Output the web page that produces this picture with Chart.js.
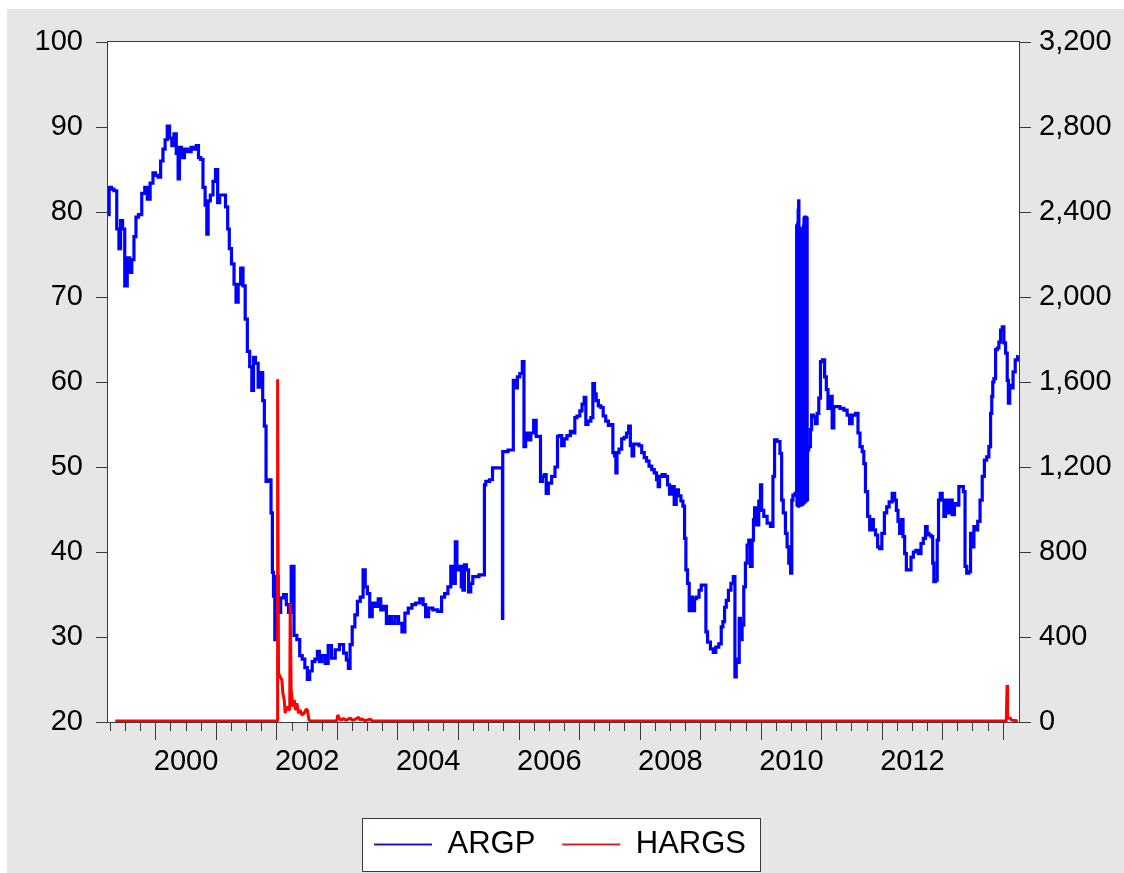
<!DOCTYPE html>
<html>
<head>
<meta charset="utf-8">
<title>ARGP and HARGS</title>
<script src="https://cdn.jsdelivr.net/npm/chart.js@4/dist/chart.umd.min.js"></script>
<style>
  html, body { margin: 0; padding: 0; background: #ffffff; }
  #wrap { position: absolute; left: 7px; top: 9px; width: 1117px; height: 864px; }
  canvas { display: block; }
</style>
</head>
<body>
<div id="wrap"><canvas id="chart" width="1117" height="864"></canvas></div>
<script>
// ARGP series (left axis): observation dates as decimal years and values
const argpDates = [
  1999.212, 1999.245, 1999.289, 1999.327, 1999.382, 1999.398, 1999.438, 1999.464, 1999.509, 1999.547,
  1999.587, 1999.620, 1999.658, 1999.686, 1999.740, 1999.795, 1999.840, 1999.878, 1999.934, 1999.972,
  2000.017, 2000.060, 2000.099, 2000.137, 2000.170, 2000.208, 2000.248, 2000.281, 2000.319, 2000.357,
  2000.380, 2000.402, 2000.446, 2000.501, 2000.555, 2000.612, 2000.650, 2000.688, 2000.721, 2000.760,
  2000.798, 2000.831, 2000.853, 2000.876, 2000.926, 2000.964, 2001.008, 2001.035, 2001.074, 2001.129,
  2001.174, 2001.200, 2001.228, 2001.273, 2001.311, 2001.339, 2001.382, 2001.421, 2001.460, 2001.493,
  2001.531, 2001.570, 2001.603, 2001.625, 2001.669, 2001.712, 2001.752, 2001.779, 2001.807, 2001.835,
  2001.889, 2001.917, 2001.934, 2001.955, 2001.977, 2002.000, 2002.043, 2002.083, 2002.137, 2002.175,
  2002.208, 2002.264, 2002.302, 2002.357, 2002.397, 2002.440, 2002.484, 2002.522, 2002.562, 2002.605,
  2002.650, 2002.688, 2002.716, 2002.770, 2002.826, 2002.869, 2002.936, 2002.992, 2003.074, 2003.129,
  2003.167, 2003.195, 2003.223, 2003.266, 2003.311, 2003.349, 2003.405, 2003.443, 2003.476, 2003.514,
  2003.554, 2003.597, 2003.653, 2003.696, 2003.736, 2003.790, 2003.828, 2003.873, 2003.927, 2003.983,
  2004.038, 2004.093, 2004.137, 2004.203, 2004.258, 2004.324, 2004.397, 2004.435, 2004.479, 2004.534,
  2004.617, 2004.699, 2004.744, 2004.798, 2004.853, 2004.893, 2004.931, 2004.964, 2004.985, 2005.030,
  2005.063, 2005.084, 2005.112, 2005.150, 2005.183, 2005.223, 2005.250, 2005.426, 2005.431, 2005.471,
  2005.554, 2005.570, 2005.724, 2005.729, 2005.734, 2005.901, 2005.911, 2005.955, 2005.993, 2006.033,
  2006.076, 2006.088, 2006.132, 2006.175, 2006.215, 2006.269, 2006.298, 2006.341, 2006.369, 2006.407,
  2006.435, 2006.463, 2006.506, 2006.572, 2006.617, 2006.655, 2006.683, 2006.727, 2006.765, 2006.820,
  2006.876, 2006.914, 2006.931, 2006.985, 2007.025, 2007.058, 2007.096, 2007.112, 2007.167, 2007.207,
  2007.233, 2007.261, 2007.289, 2007.332, 2007.372, 2007.410, 2007.455, 2007.498, 2007.537, 2007.564,
  2007.592, 2007.608, 2007.630, 2007.674, 2007.719, 2007.757, 2007.795, 2007.828, 2007.851, 2007.884,
  2007.906, 2007.960, 2008.005, 2008.050, 2008.088, 2008.126, 2008.170, 2008.215, 2008.253, 2008.291,
  2008.307, 2008.336, 2008.390, 2008.435, 2008.473, 2008.501, 2008.545, 2008.583, 2008.612, 2008.655,
  2008.694, 2008.721, 2008.749, 2008.765, 2008.803, 2008.820, 2008.860, 2008.886, 2008.914, 2008.952,
  2008.997, 2009.025, 2009.079, 2009.096, 2009.134, 2009.190, 2009.228, 2009.273, 2009.327, 2009.355,
  2009.382, 2009.410, 2009.438, 2009.481, 2009.521, 2009.559, 2009.575, 2009.603, 2009.630, 2009.646,
  2009.669, 2009.702, 2009.724, 2009.757, 2009.779, 2009.812, 2009.835, 2009.868, 2009.878, 2009.906,
  2009.944, 2009.977, 2010.000, 2010.017, 2010.071, 2010.126, 2010.182, 2010.208, 2010.236, 2010.291,
  2010.331, 2010.347, 2010.385, 2010.418, 2010.440, 2010.473, 2010.501, 2010.512, 2010.539, 2010.583,
  // mid-2010: day-to-day swings between two levels
  2010.590, 2010.594, 2010.598, 2010.602, 2010.606, 2010.610, 2010.614, 2010.618, 2010.622, 2010.626,
  2010.630, 2010.634, 2010.638, 2010.642, 2010.646, 2010.650, 2010.654, 2010.658, 2010.662, 2010.666,
  2010.670, 2010.674, 2010.678, 2010.682, 2010.686, 2010.690, 2010.694, 2010.698, 2010.702, 2010.706,
  2010.710, 2010.714, 2010.718, 2010.722, 2010.726, 2010.730, 2010.734, 2010.738, 2010.742, 2010.746,
  2010.750, 2010.754, 2010.758, 2010.762,
  2010.770, 2010.803, 2010.826, 2010.843, 2010.881, 2010.914, 2010.936, 2010.969,
  2010.992, 2011.035, 2011.063, 2011.091, 2011.117, 2011.157, 2011.190, 2011.212, 2011.266, 2011.339,
  2011.393, 2011.448, 2011.476, 2011.531, 2011.587, 2011.613, 2011.653, 2011.686, 2011.707, 2011.740,
  2011.779, 2011.807, 2011.835, 2011.873, 2011.906, 2011.944, 2011.972, 2012.017, 2012.055, 2012.093,
  2012.137, 2012.192, 2012.220, 2012.248, 2012.274, 2012.302, 2012.331, 2012.357, 2012.385, 2012.413,
  2012.456, 2012.496, 2012.534, 2012.579, 2012.621, 2012.661, 2012.699, 2012.732, 2012.754, 2012.787,
  2012.826, 2012.843, 2012.864, 2012.898, 2012.919, 2012.942, 2012.975, 2013.008, 2013.030, 2013.063,
  2013.101, 2013.140, 2013.174, 2013.212, 2013.250, 2013.283, 2013.322, 2013.360, 2013.377, 2013.415,
  2013.448, 2013.471, 2013.504, 2013.526, 2013.559, 2013.597, 2013.636, 2013.669, 2013.707, 2013.745,
  2013.779, 2013.802, 2013.818, 2013.835, 2013.856, 2013.890, 2013.911, 2013.944, 2013.967, 2014.000,
  2014.021, 2014.055, 2014.076, 2014.093, 2014.121, 2014.149, 2014.175, 2014.220, 2014.255
];
const argpValues = [
  79.7, 82.9, 82.7, 82.5, 78.0, 75.7, 79.0, 78.0, 71.3, 74.6,
  72.9, 74.4, 77.1, 79.4, 79.7, 82.2, 82.9, 81.5, 83.4, 84.6,
  84.3, 84.1, 86.0, 87.4, 88.5, 90.1, 88.7, 87.8, 89.2, 86.9,
  83.9, 87.6, 86.4, 87.4, 87.1, 87.6, 87.4, 87.8, 86.4, 86.2,
  82.9, 80.8, 77.4, 81.3, 82.0, 83.6, 85.0, 81.1, 82.0, 82.0,
  80.6, 78.0, 75.7, 73.9, 71.5, 69.4, 71.5, 73.4, 71.3, 67.4,
  63.6, 61.8, 59.0, 62.9, 62.2, 59.4, 61.1, 57.8, 54.8, 48.3,
  48.5, 44.6, 37.6, 34.8, 29.7, 37.1, 32.9, 34.6, 35.0, 33.8,
  32.9, 38.3, 30.2, 29.7, 27.8, 27.4, 26.4, 25.0, 26.0, 27.1,
  27.4, 28.3, 27.1, 27.8, 26.9, 29.0, 27.5, 28.5, 29.1, 28.1,
  27.3, 26.3, 29.1, 31.2, 32.6, 34.2, 34.7, 37.9, 35.9, 35.1,
  32.4, 34.0, 33.6, 34.5, 33.2, 33.6, 31.6, 32.4, 31.6, 32.4,
  31.6, 30.6, 32.8, 33.4, 33.8, 34.0, 34.5, 33.8, 32.4, 33.4,
  33.2, 33.0, 34.7, 35.1, 35.9, 38.3, 36.3, 41.2, 37.9, 38.3,
  35.9, 35.5, 38.5, 37.9, 35.3, 36.3, 37.1, 37.3, 47.9, 48.3,
  48.5, 49.9, 49.9, 32.2, 51.8, 52.0, 60.2, 59.3, 60.6, 61.0,
  62.4, 52.4, 54.0, 53.2, 54.0, 55.5, 53.6, 53.6, 48.3, 48.9,
  49.1, 46.9, 48.1, 48.9, 50.0, 53.6, 53.7, 52.5, 53.3, 53.7,
  54.2, 54.0, 55.8, 56.0, 56.6, 57.4, 58.2, 55.0, 55.4, 55.8,
  59.8, 58.6, 57.8, 57.2, 57.0, 56.0, 55.4, 54.9, 55.0, 51.7,
  51.3, 49.3, 51.7, 52.1, 53.3, 53.5, 54.0, 54.8, 52.5, 51.3,
  52.7, 52.7, 52.5, 51.7, 51.1, 50.7, 50.1, 49.7, 49.3, 48.5,
  47.7, 48.9, 49.1, 48.9, 47.9, 46.8, 47.7, 45.6, 47.3, 46.6,
  46.0, 45.4, 41.6, 37.9, 36.3, 33.1, 34.7, 33.1, 34.5, 34.7,
  35.5, 36.1, 36.1, 30.6, 29.4, 28.6, 28.2, 28.8, 29.2, 31.2,
  31.8, 33.5, 34.3, 35.5, 36.3, 37.1, 25.3, 27.4, 27.0, 32.2,
  29.7, 31.4, 35.9, 38.7, 40.8, 41.4, 38.3, 41.4, 43.8, 45.2,
  43.2, 46.0, 47.9, 44.9, 44.2, 43.4, 43.0, 48.9, 53.2, 53.0,
  51.6, 46.1, 44.6, 42.2, 40.6, 38.7, 37.5, 46.1, 46.7, 46.9,
  78.3, 45.6, 78.4, 45.5, 78.6, 45.5, 80.2, 45.4, 81.3, 45.5,
  78.1, 45.5, 78.0, 45.6, 77.9, 45.6, 77.9, 45.5, 77.8, 45.6,
  77.8, 45.7, 77.9, 45.6, 78.0, 45.7, 78.1, 45.8, 78.3, 45.8,
  79.2, 45.9, 79.3, 45.9, 79.4, 46.0, 79.4, 46.0, 79.3, 46.1,
  79.3, 46.1, 79.2, 46.2,
  52.0, 52.4, 54.4, 56.1, 55.9, 55.1, 56.3, 58.1,
  62.4, 62.6, 60.6, 59.1, 56.9, 58.3, 54.6, 57.1, 57.1, 56.9,
  56.7, 56.1, 55.1, 56.1, 56.3, 54.0, 52.4, 51.8, 50.4, 47.1,
  44.2, 42.6, 43.8, 42.6, 42.0, 40.6, 40.4, 42.2, 44.6, 45.3,
  45.9, 46.9, 46.1, 44.9, 43.6, 42.2, 43.8, 41.8, 39.8, 37.9,
  37.9, 39.4, 40.0, 40.2, 39.8, 41.0, 41.6, 43.0, 42.2, 42.0,
  41.8, 38.7, 36.5, 36.7, 41.4, 46.1, 46.9, 46.1, 44.2, 46.1,
  44.6, 46.1, 44.4, 45.7, 45.5, 47.7, 47.7, 47.1, 38.3, 37.5,
  37.7, 42.2, 40.6, 43.0, 42.6, 43.6, 46.1, 48.9, 50.8, 51.2,
  52.4, 56.3, 58.3, 60.0, 60.4, 63.8, 64.0, 64.7, 66.1, 66.5,
  64.6, 63.4, 60.2, 57.5, 59.6, 59.3, 61.2, 62.6, 63.0
];

// HARGS series (right axis)
const hargsDates = [
  1999.330, 2002.005, 2002.012, 2002.027, 2002.055, 2002.083, 2002.099, 2002.121, 2002.137, 2002.165,
  2002.192, 2002.212, 2002.220, 2002.236, 2002.264, 2002.286, 2002.307, 2002.331, 2002.357, 2002.385,
  2002.413, 2002.451, 2002.484, 2002.506, 2002.529, 2002.560, 2002.990, 2003.005, 2003.030, 2003.060,
  2003.101, 2003.140, 2003.212, 2003.250, 2003.311, 2003.349, 2003.380, 2003.405, 2003.450, 2003.542,
  2003.580, 2014.050, 2014.063, 2014.072, 2014.090, 2014.110, 2014.130, 2014.160, 2014.240
];
const hargsValues = [
  5, 5, 1613, 229, 213, 198, 135, 104, 42, 72,
  56, 60, 559, 151, 72, 104, 56, 88, 41, 56,
  33, 41, 60, 56, 10, 5, 5, 33, 18, 8,
  17, 8, 18, 8, 15, 22, 8, 15, 6, 13,
  5, 5, 174, 25, 15, 22, 10, 8, 5
];

const seriesNames = ['ARGP', 'HARGS'];
const lineColors = ['#0000ff', '#ff0000'];
const legendColors = ['#1c1ca6', '#c62828'];
const yearLabels = ['2000', '2002', '2004', '2006', '2008', '2010', '2012'];
const leftTicks = [20, 30, 40, 50, 60, 70, 80, 90, 100];
const rightTicks = [0, 400, 800, 1200, 1600, 2000, 2400, 2800, 3200];

const X_MIN = 1999.21, X_MAX = 2014.26;
const FONT = "'Liberation Sans', Arial, Helvetica, sans-serif";

// quarterly tick positions; labels sit mid-year (Q3 start)
const quarterTicks = [];
for (let y = 1999; y <= 2014; y++) {
  for (let q = 0; q < 4; q++) {
    const v = y + q / 4;
    if (v >= X_MIN && v < X_MAX - 0.02) quarterTicks.push(v);
  }
}

const toPoints = (dates, values) => dates.map((d, i) => ({ x: d, y: values[i] }));

const panelPlugin = {
  id: 'panel',
  beforeDraw(chart) {
    const { ctx, chartArea: a, width, height } = chart;
    ctx.save();
    ctx.fillStyle = '#e6e6e6';
    ctx.fillRect(0, 0, width, height);
    ctx.fillStyle = '#ffffff';
    ctx.fillRect(a.left, a.top, a.right - a.left, a.bottom - a.top);
    const boxes = chart.legend && chart.legend.legendHitBoxes;
    if (boxes && boxes.length) {
      const first = boxes[0], last = boxes[boxes.length - 1];
      const l = Math.round(first.left - 12) + 0.5;
      const r = Math.round(last.left + last.width + 14) + 0.5;
      const t = Math.round(first.top - 11) + 0.5;
      const b = Math.round(first.top + first.height + 11) + 0.5;
      ctx.fillStyle = '#ffffff';
      ctx.fillRect(l, t, r - l, b - t);
      ctx.strokeStyle = '#3a3a3a';
      ctx.lineWidth = 1;
      ctx.strokeRect(l, t, r - l, b - t);
    }
    ctx.restore();
  },
  afterDraw(chart) {
    const { ctx, chartArea: a } = chart;
    ctx.save();
    ctx.strokeStyle = '#3a3a3a';
    ctx.lineWidth = 1;
    ctx.strokeRect(a.left - 0.5, a.top - 0.5, a.right - a.left + 1, a.bottom - a.top + 1);
    ctx.restore();
  }
};

new Chart(document.getElementById('chart'), {
  type: 'line',
  data: {
    datasets: [
      {
        label: seriesNames[0],
        data: toPoints(argpDates, argpValues),
        borderColor: lineColors[0],
        backgroundColor: lineColors[0],
        borderWidth: 3.2,
        borderJoinStyle: 'miter',
        stepped: 'middle',
        pointRadius: 0,
        yAxisID: 'y',
        order: 1
      },
      {
        label: seriesNames[1],
        data: toPoints(hargsDates, hargsValues),
        borderColor: lineColors[1],
        backgroundColor: lineColors[1],
        borderWidth: 3,
        borderJoinStyle: 'bevel',
        pointRadius: 0,
        tension: 0,
        yAxisID: 'y1',
        order: 0
      }
    ]
  },
  options: {
    responsive: false,
    animation: false,
    devicePixelRatio: 1,
    events: [],
    layout: { padding: { top: 33, left: 0, right: 11, bottom: 3 } },
    scales: {
      x: {
        type: 'linear',
        position: 'bottom',
        min: X_MIN,
        max: X_MAX,
        afterFit(scale) { scale.height = 80; },
        afterBuildTicks(scale) { scale.ticks = quarterTicks.map(v => ({ value: v })); },
        border: { display: false },
        grid: {
          drawOnChartArea: false,
          drawTicks: true,
          tickLength: 18,
          tickColor: '#3a3a3a',
          tickWidth: 1,
          tickBorderDash: (c) => {
            const v = c.tick ? c.tick.value : 0;
            return Math.abs(v - Math.round(v)) < 1e-6 ? [] : [9, 40];
          }
        },
        ticks: {
          autoSkip: false,
          maxRotation: 0,
          minRotation: 0,
          padding: 5,
          color: '#000',
          font: { family: FONT, size: 29 },
          callback(value) {
            const yr = Math.floor(value);
            return (Math.abs(value - yr - 0.5) < 1e-6 && yearLabels.includes(String(yr))) ? String(yr) : '';
          }
        }
      },
      y: {
        type: 'linear',
        position: 'left',
        min: leftTicks[0],
        max: leftTicks[leftTicks.length - 1],
        afterFit(scale) { scale.width = 101; },
        afterBuildTicks(scale) { scale.ticks = leftTicks.map(v => ({ value: v })); },
        border: { display: false },
        grid: { drawOnChartArea: false, tickLength: 12, tickColor: '#3a3a3a', tickWidth: 1 },
        ticks: { padding: 13, color: '#000', font: { family: FONT, size: 29 } }
      },
      y1: {
        type: 'linear',
        position: 'right',
        min: rightTicks[0],
        max: rightTicks[rightTicks.length - 1],
        afterFit(scale) { scale.width = 94; },
        afterBuildTicks(scale) { scale.ticks = rightTicks.map(v => ({ value: v })); },
        border: { display: false },
        grid: { drawOnChartArea: false, tickLength: 12, tickColor: '#3a3a3a', tickWidth: 1 },
        ticks: {
          padding: 8,
          color: '#000',
          font: { family: FONT, size: 29 },
          callback: (v) => Number(v).toLocaleString('en-US')
        }
      }
    },
    plugins: {
      tooltip: { enabled: false },
      legend: {
        position: 'bottom',
        align: 'center',
        labels: {
          usePointStyle: true,
          pointStyle: 'line',
          pointStyleWidth: 58,
          padding: 27,
          color: '#000',
          font: { family: FONT, size: 31 },
          generateLabels: (chart) => chart.data.datasets.map((ds, i) => ({
            text: ds.label,
            strokeStyle: legendColors[i],
            fillStyle: legendColors[i],
            fontColor: '#000',
            lineWidth: 2,
            lineDash: [],
            pointStyle: 'line',
            hidden: false,
            datasetIndex: i
          }))
        }
      }
    }
  },
  plugins: [panelPlugin]
});
</script>
</body>
</html>
